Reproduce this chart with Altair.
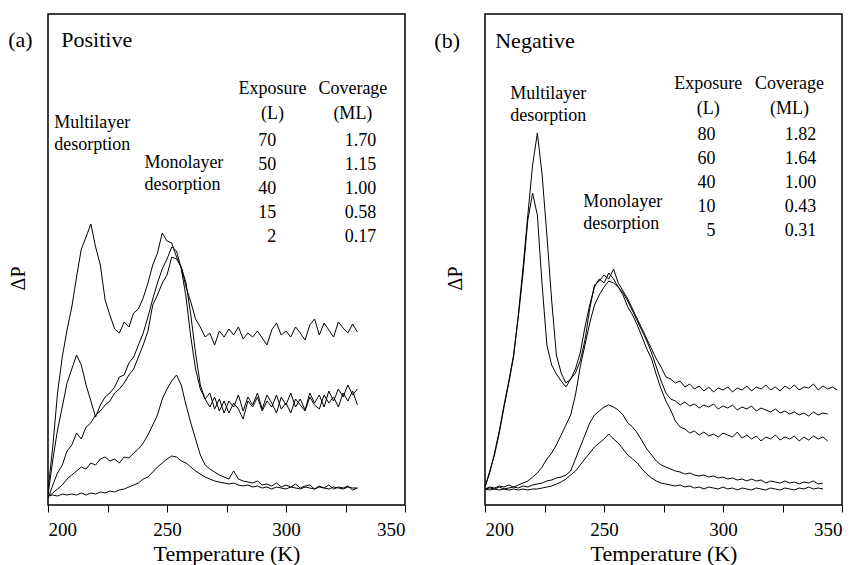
import altair as alt
import pandas as pd

# ---------------- data ----------------
# Temperature grid (K), 2 K steps; each curve uses the first len(values) points
T_GRID = list(range(200, 350, 2))

# Panel (a) Positive — exposures 70, 50, 40, 15, 2 L  (ΔP, arbitrary units)
A_70 = [15, 58, 112, 148, 175, 198, 228, 256, 268, 281, 258, 240, 205, 190, 176, 172, 183, 178, 192, 196,
        207, 222, 240, 252, 272, 264, 262, 248, 238, 218, 203, 186, 178, 168, 172, 160, 174, 168, 176, 170,
        178, 166, 172, 168, 174, 167, 160, 175, 182, 170, 174, 168, 178, 172, 165, 180, 186, 170, 182, 175,
        168, 183, 177, 172, 181, 173]
A_50 = [10, 45, 75, 98, 122, 136, 150, 140, 120, 104, 88, 100, 108, 112, 118, 128, 130, 142, 148, 160,
        172, 188, 206, 222, 236, 246, 258, 254, 236, 208, 168, 136, 116, 106, 112, 96, 106, 92, 104, 98,
        110, 94, 108, 100, 112, 96, 110, 102, 92, 108, 100, 112, 98, 106, 95, 112, 102, 110, 98, 114,
        104, 116, 108, 120, 110, 116]
A_40 = [6, 20, 32, 40, 54, 60, 72, 66, 78, 82, 90, 94, 100, 104, 112, 116, 122, 130, 136, 148,
        160, 174, 200, 210, 222, 230, 248, 246, 238, 222, 190, 152, 120, 106, 98, 108, 94, 104, 92, 102,
        96, 86, 104, 98, 108, 94, 104, 98, 110, 96, 102, 92, 106, 100, 94, 108, 100, 96, 110, 102,
        108, 98, 112, 104, 114, 100]
A_15 = [8, 12, 16, 20, 26, 30, 34, 38, 36, 42, 40, 46, 48, 44, 46, 42, 48, 47, 52, 56,
        62, 70, 80, 90, 106, 116, 124, 130, 120, 100, 82, 66, 50, 40, 36, 33, 30, 28, 26, 34,
        26, 24, 23, 22, 24, 20, 21, 19, 22, 18, 20, 18, 21, 17, 19, 20, 16, 19, 17, 20,
        16, 18, 17, 19, 15, 17]
A_2 = [9, 10, 9, 11, 10, 11, 10, 12, 10, 12, 11, 13, 12, 14, 13, 15, 16, 18, 20, 22,
       26, 28, 33, 38, 42, 46, 49, 48, 44, 42, 38, 34, 31, 28, 26, 24, 23, 22, 21, 22,
       20, 19, 20, 18, 19, 17, 18, 16, 18, 17, 16, 18, 17, 16, 18, 17, 16, 18, 17, 16,
       18, 17, 16, 18, 17, 17]

# Panel (b) Negative — exposures 80, 60, 40, 10, 5 L
B_80 = [18, 34, 50, 72, 98, 122, 148, 190, 238, 290, 340, 372, 330, 270, 205, 150, 132, 122, 126, 132,
        144, 165, 196, 220, 224, 230, 226, 236, 222, 214, 206, 196, 186, 176, 166, 156, 146, 138, 128, 126,
        122, 124, 118, 121, 116, 119, 114, 118, 113, 117, 115, 118, 113, 117, 115, 119, 114, 118, 116, 120,
        115, 118, 114, 119, 116, 120, 115, 118, 117, 121, 115, 119, 116, 118, 115]
B_60 = [18, 32, 52, 74, 100, 124, 150, 188, 232, 285, 312, 290, 220, 160, 140, 131, 124, 118, 126, 136,
        152, 178, 200, 218, 226, 222, 232, 226, 218, 212, 204, 194, 184, 174, 164, 152, 138, 124, 112, 106,
        104, 100, 103, 99, 101, 97, 100, 98, 101, 96, 99, 97, 100, 95, 98, 96, 99, 94, 97, 95,
        93, 96, 92, 94, 91, 93, 90, 92, 89, 93, 90, 92, 91]
B_40 = [16, 18, 17, 19, 18, 20, 18, 20, 22, 24, 28, 32, 38, 46, 52, 60, 70, 80, 90, 110,
        138, 160, 182, 200, 210, 218, 224, 222, 218, 210, 198, 190, 180, 168, 156, 146, 130, 116, 104, 95,
        84, 78, 76, 72, 74, 70, 73, 69, 71, 68, 72, 70, 68, 73, 67, 70, 66, 69, 64, 68,
        66, 70, 65, 68, 66, 69, 64, 68, 65, 69, 66, 68, 64]
B_10 = [16, 17, 16, 18, 16, 17, 18, 17, 19, 18, 20, 21, 22, 24, 25, 27, 28, 30, 34, 46,
        58, 70, 82, 90, 94, 98, 100, 98, 95, 90, 82, 78, 72, 64, 56, 50, 44, 40, 38, 36,
        34, 33, 31, 32, 30, 29, 30, 28, 29, 27, 28, 26, 27, 25, 26, 24, 26, 24, 25, 22,
        24, 23, 22, 24, 22, 23, 21, 23, 22, 24, 21, 22]
B_5 = [16, 15, 16, 15, 16, 15, 16, 15, 16, 15, 16, 16, 17, 18, 19, 21, 23, 26, 30, 34,
       40, 46, 52, 58, 62, 66, 71, 66, 62, 56, 50, 46, 42, 36, 31, 27, 24, 22, 21, 20,
       19, 20, 18, 19, 17, 18, 16, 18, 17, 16, 18, 16, 17, 15, 17, 16, 15, 17, 16, 15,
       17, 16, 15, 17, 16, 15, 17, 16, 18, 16, 17, 16]

# Legend tables
A_EXPOSURE = ["70", "50", "40", "15", "2"]
A_COVERAGE = ["1.70", "1.15", "1.00", "0.58", "0.17"]
B_EXPOSURE = ["80", "60", "40", "10", "5"]
B_COVERAGE = ["1.82", "1.64", "1.00", "0.43", "0.31"]

FONT = "'Liberation Serif', 'Times New Roman', 'DejaVu Serif', serif"
Y_MAX = 491


def curves_df(curves):
    rows = []
    for name, vals in curves.items():
        for t, v in zip(T_GRID, vals):
            rows.append({"T": t, "h": v, "series": name})
    return pd.DataFrame(rows)


def text_layer(df, align, size):
    return alt.Chart(df).mark_text(align=align, baseline="alphabetic", fontSize=size,
                                   font=FONT, color="black").encode(
        x=alt.X("T:Q"), y=alt.Y("h:Q"), text="label:N")


def panel(curves, tag, name, tag_T, name_T, top_h,
          multi_T, multi_h, mono_T, mono_h,
          exp_T, cov_T, head_h, num_right_T, val_right_T, row_h0, exposure, coverage):
    df = curves_df(curves)
    x = alt.X("T:Q", scale=alt.Scale(domain=[200, 350], nice=False, zero=False),
              axis=alt.Axis(values=[200, 225, 250, 275, 300, 325, 350],
                            labelExpr="datum.value % 50 == 0 ? datum.value : ''",
                            grid=False, domain=False, tickSize=7, tickColor="black",
                            labelFont=FONT, labelFontSize=19, labelColor="black", labelPadding=8,
                            title="Temperature (K)", titleFont=FONT, titleFontSize=22,
                            titleFontWeight="normal", titleColor="black", titlePadding=4))
    y = alt.Y("h:Q", scale=alt.Scale(domain=[0, Y_MAX], nice=False),
              axis=alt.Axis(labels=False, ticks=False, domain=False, grid=False,
                            title="ΔP", titleFont=FONT, titleFontSize=20, titleFontWeight="normal",
                            titleColor="black", titleAngle=270, titleAlign="center",
                            titleBaseline="bottom", titleX=-20, titleY=264))
    lines = alt.Chart(df).mark_line(color="black", strokeWidth=1, clip=True).encode(
        x=x, y=y, detail="series:N")

    left_df = pd.DataFrame([
        {"T": tag_T, "h": top_h, "label": tag},
        {"T": name_T, "h": top_h, "label": name},
        {"T": multi_T, "h": multi_h, "label": "Multilayer"},
        {"T": multi_T, "h": multi_h - 22, "label": "desorption"},
        {"T": mono_T, "h": mono_h, "label": "Monolayer"},
        {"T": mono_T, "h": mono_h - 22, "label": "desorption"},
    ])
    big_df = left_df.iloc[:2]
    small_left_df = left_df.iloc[2:]
    center_df = pd.DataFrame([
        {"T": exp_T, "h": head_h, "label": "Exposure"},
        {"T": cov_T, "h": head_h, "label": "Coverage"},
        {"T": exp_T, "h": head_h - 25, "label": "(L)"},
        {"T": cov_T, "h": head_h - 25, "label": "(ML)"},
    ])
    right_rows = []
    for i, (e, c) in enumerate(zip(exposure, coverage)):
        right_rows.append({"T": num_right_T, "h": row_h0 - 24 * i, "label": e})
        right_rows.append({"T": val_right_T, "h": row_h0 - 24 * i, "label": c})
    right_df = pd.DataFrame(right_rows)

    return alt.layer(
        lines,
        text_layer(big_df, "left", 22),
        text_layer(small_left_df, "left", 18),
        text_layer(center_df, "center", 18),
        text_layer(right_df, "right", 18),
    ).properties(width=357, height=491)


panel_a = panel({"70": A_70, "50": A_50, "40": A_40, "15": A_15, "2": A_2},
                "(a)", "Positive", 183.3, 205.6, 458,
                202.6, 377, 240.5, 337,
                294.3, 328.1, 411, 295.9, 337.9, 359, A_EXPOSURE, A_COVERAGE)
panel_b = panel({"80": B_80, "60": B_60, "40": B_40, "10": B_10, "5": B_5},
                "(b)", "Negative", 178.7, 204.3, 457,
                210.6, 406, 241.3, 298,
                293.8, 327.9, 416, 296.8, 339.2, 365, B_EXPOSURE, B_COVERAGE)

chart = alt.hconcat(panel_a, panel_b, spacing=26).properties(
    padding={"left": 7, "top": 13, "right": 0, "bottom": 0},
    background="white",
).configure(font=FONT).configure_view(stroke="black", strokeWidth=1.5)

chart.save("out.html", embed_options={"renderer": "svg", "actions": False})
